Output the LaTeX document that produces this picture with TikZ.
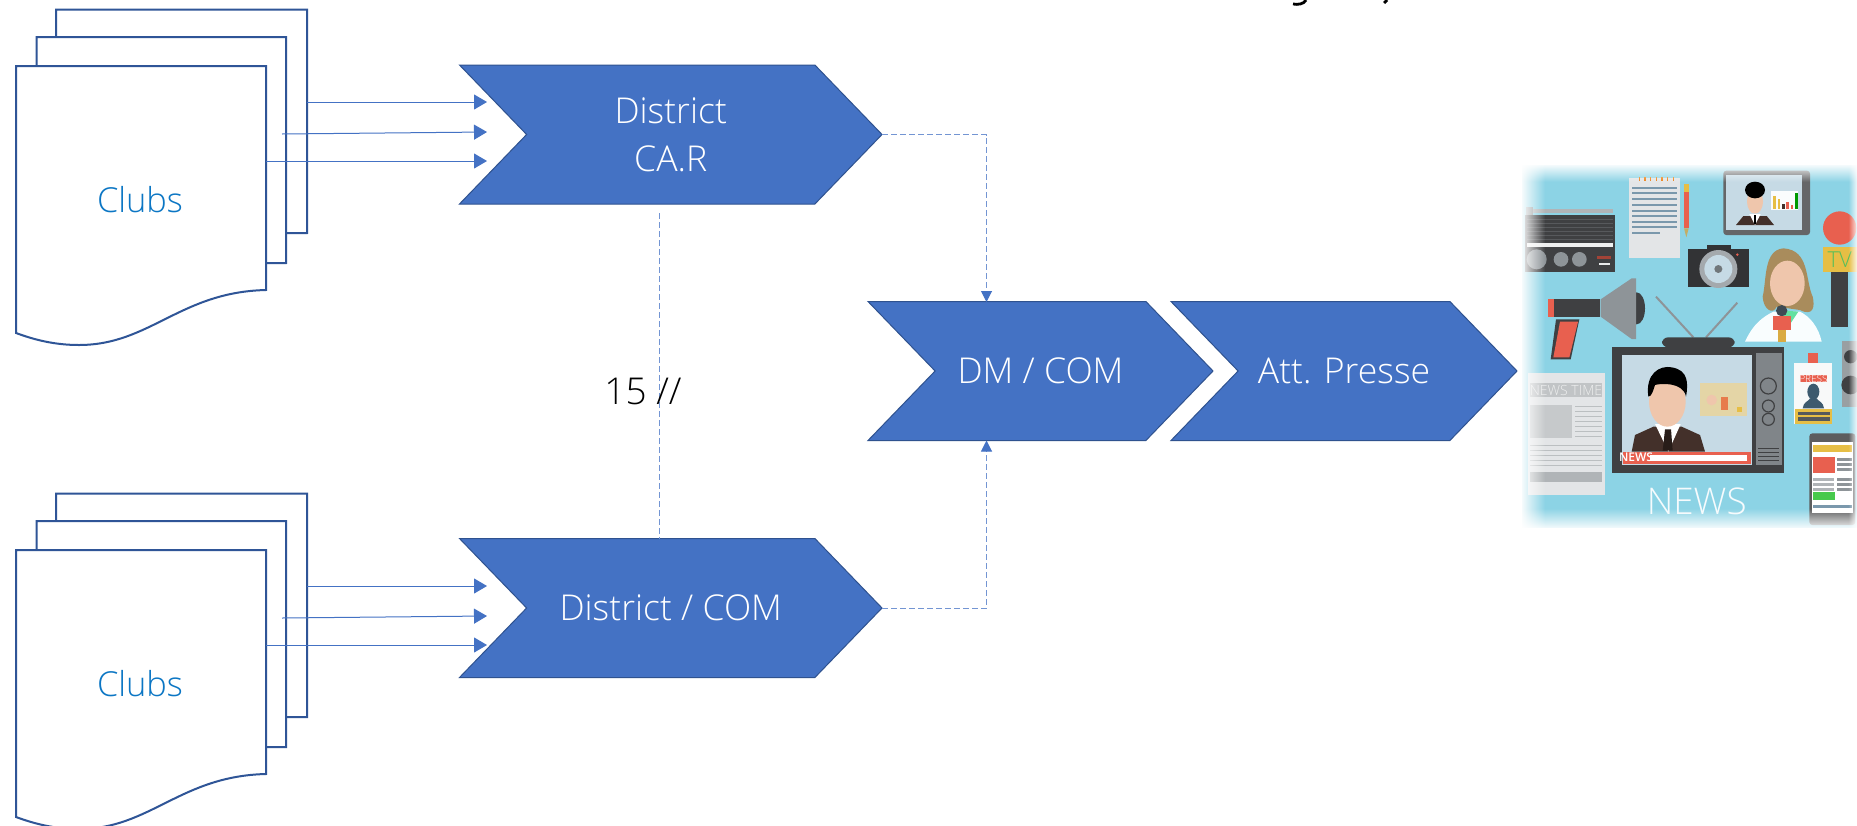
\documentclass[tikz,border=0pt]{standalone}
\usepackage{fontspec}
\setmainfont{Open Sans}[UprightFont=* Light]
\usetikzlibrary{shapes.symbols,arrows.meta,fadings}
\definecolor{chev}{HTML}{4472C4}
\definecolor{chevline}{HTML}{2F528F}
\definecolor{docline}{HTML}{2F5597}
\definecolor{clubtxt}{HTML}{0B76C4}
\definecolor{sky}{HTML}{8CD3E5}
\definecolor{dk}{HTML}{3F4042}
\definecolor{rd}{HTML}{E8604F}
\definecolor{yl}{HTML}{E6BE45}
\definecolor{gr}{HTML}{8E9498}
\definecolor{lg}{HTML}{E3E5E7}
\definecolor{scr}{HTML}{C6DAE5}
\definecolor{skin}{HTML}{EFC6AC}
\definecolor{suit}{HTML}{43302A}
\definecolor{txtline}{HTML}{7A98AC}
\definecolor{hair}{HTML}{A98C5C}
\definecolor{slate}{HTML}{3D5A6E}
\tikzset{
  chevron/.style={shape=signal,signal from=west,signal to=east,signal pointer angle=92,
    fill=chev,draw=chevline,line width=0.5pt,text=white,inner sep=0pt,outer sep=0pt,
    minimum height=69.5pt,font=\fontsize{17.8}{24}\selectfont,align=center},
  docshape/.style={draw=docline,fill=white,line width=1pt,line join=miter},
  clubs/.style={text=clubtxt,font=\fontsize{17.2}{20}\selectfont},
  flow/.style={draw=chev,line width=0.5pt,-{Triangle[length=6.5pt,width=7.5pt,color=chev]}},
  dashflow/.style={draw=chev!75,line width=0.5pt,dash pattern=on 3pt off 1.5pt,-{Triangle[length=5.5pt,width=5.5pt,color=chev]}},
  dashplain/.style={draw=chev!75,line width=0.5pt,dash pattern=on 3pt off 1.5pt},
}
\begin{document}
\begin{tikzpicture}[x=0.5pt,y=-0.5pt]
\useasboundingbox (0,0) rectangle (1857,825);
\fill[white] (0,0) rectangle (1857,825);
% fragments of text cut by the top edge
\draw[black,line width=1.4pt] (1306,0) .. controls (1304,4) and (1298,5) .. (1293,4);
\draw[black,line width=1.4pt] (1387,0) -- (1384,3);
% documents
\foreach \off/\nm in {0/A,484/B}{
\begin{scope}[yshift=-\off*0.5pt]
 \draw[docshape] (56,9.5) -- (307,9.5) -- (307,233) -- (56,235) -- cycle;
 \draw[docshape] (36.7,37) -- (286,37) -- (286,263) -- (36.7,265) -- cycle;
 \draw[docshape] (16,66) -- (266,66) -- (266,290) .. controls (180,292) and (150,345) .. (79,345) .. controls (55,345) and (35,340) .. (16,333) -- cycle;
 \node[clubs] (clubs\nm) at (140,200) {Clubs};
 \coordinate (s\nm1) at (307,102);
 \coordinate (s\nm2) at (282,134);
 \coordinate (s\nm3) at (266,161);
 \coordinate (e\nm1) at (487,102);
 \coordinate (e\nm2) at (487,132);
 \coordinate (e\nm3) at (487,161);
\end{scope}
}
% chevrons
\node[chevron,minimum width=211.25pt] (car) at (670.75,134.5) {District\\CA.R};
\node[chevron,minimum width=211.25pt] (dcom) at (670.75,608) {\raisebox{-0.6pt}{District / COM}};
\node[chevron,minimum width=172.5pt] (dm) at (1040.5,371) {\raisebox{-0.6pt}{DM / COM}};
\node[chevron,minimum width=173pt] (att) at (1344,371) {\raisebox{-0.6pt}{Att. Presse}};
\coordinate (dmtop) at (986.5,302);
\coordinate (dmbot) at (986.5,440.5);
\coordinate (vtop) at (659.6,213);
\coordinate (vbot) at (659.6,539);
% connectors
\foreach \nm in {A,B}{
 \foreach \i in {1,2,3}{ \draw[flow] (s\nm\i) -- (e\nm\i); }
}
\draw[dashflow] (car.east) -| (dmtop);
\draw[dashflow] (dcom.east) -| (dmbot);
\draw[dashplain] (vtop) -- (vbot);
\node[text=black,font=\fontsize{18.5}{20}\selectfont] (lab) at (643,391) {15 //};
% news picture
\begin{scope}[shift={(1480,140)},x=0.16667pt,y=-0.16667pt]
 \fill[sky] (125,75) rectangle (1131,1165);
 % radio
 \fill[gr!70] (148,208) rectangle (400,218);
 \fill[gr] (138,200) rectangle (158,230);
 \fill[dk] (135,226) rectangle (406,395);
 \foreach \y in {238,250,262,274,286,298}{\draw[dk!70!gr,line width=0.4pt] (140,\y) -- (400,\y);}
 \fill[white!85!gr] (140,309) rectangle (398,322);
 \fill[gr] (170,358) circle[radius=30];
 \fill[gr] (243,358) circle[radius=22];
 \fill[gr] (298,358) circle[radius=22];
 \fill[rd!70!black] (352,348) rectangle (392,358);
 \fill[white!80!gr] (358,368) rectangle (390,376);
 % notepad
 \fill[lg] (448,113) rectangle (600,355);
 \foreach \y in {143,160,177,195,212,228,245,262}{\fill[txtline] (455,\y-3) rectangle (592,\y+3);}
 \fill[txtline] (455,275) rectangle (540,281);
 \foreach \x in {478,495,512,529,546,563,580}{\fill[orange!70!brown] (\x-2,110) rectangle (\x+2,122);}
 \fill[yl] (612,133) rectangle (626,155);
 \fill[rd] (612,155) rectangle (626,265);
 \fill[yl!60!gr] (612,265) -- (626,265) -- (619,292) -- cycle;
 % tablet
 \fill[dk!80,rounded corners=1.5pt] (730,92) rectangle (990,285);
 \fill[scr] (738,104) rectangle (965,270);
 \fill[suit] (768,255) -- (790,228) -- (860,228) -- (882,255) -- cycle;
 \fill[white] (808,222) -- (842,222) -- (825,255) -- cycle;
 \fill[black] (821,225) rectangle (829,253);
 \fill[skin] (825,185) ellipse[x radius=24,y radius=36];
 \fill[black] (825,150) ellipse[x radius=30,y radius=25];
 \fill[white!92!scr] (873,152) rectangle (955,210);
 \foreach \x/\h/\c in {880/40/yl,893/30/yl,906/15/suit,919/22/rd,932/12/rd,945/50/green!60!black}{\fill[\c] (\x,208-\h) rectangle (\x+8,208);}
 % camera
 \fill[dk!80!black] (680,314) rectangle (752,335);
 \fill[dk!80!black] (625,328) rectangle (806,441);
 \fill[gr!80] (715,387) circle[radius=57];
 \fill[scr] (715,387) circle[radius=42];
 \fill[gr!80!black] (715,387) circle[radius=12];
 \fill[rd] (772,344) circle[radius=4];
 % woman
 \fill[white!95!sky] (795,605) .. controls (820,550) and (850,530) .. (880,515) -- (960,515) .. controls (990,530) and (1015,560) .. (1025,605) -- cycle;
 \fill[hair] (910,325) .. controls (850,330) and (860,420) .. (848,470) .. controls (850,510) and (880,525) .. (890,500) -- (960,510) .. controls (1000,530) and (1005,500) .. (998,470) .. controls (975,420) and (990,330) .. (910,325) -- cycle;
 \fill[skin] (922,430) ellipse[x radius=52,y radius=68];
 \fill[sky!70!green] (890,510) -- (955,515) -- (925,560) -- cycle;
 \fill[dk!60!slate] (905,512) circle[radius=17];
 \fill[rd] (878,527) rectangle (934,570);
 \fill[yl!70!brown] (893,570) rectangle (918,605);
 % TV microphone
 \fill[dk] (1053,395) rectangle (1105,560);
 \fill[rd] (1079,264) circle[radius=50];
 \fill[yl] (1030,322) rectangle (1130,395);
 \node[text=green!40!gr,font=\fontsize{11}{11}\selectfont] (tvtxt) at (1079,360) {TV};
 % megaphone
 \fill[dk] (205,476) rectangle (360,530);
 \fill[rd] (205,476) rectangle (222,530);
 \fill[dk] (228,538) -- (298,538) -- (272,658) -- (212,658) -- cycle;
 \fill[rd] (240,545) -- (294,545) -- (268,652) -- (220,652) -- cycle;
 \fill[dk] (470,505) ellipse[x radius=25,y radius=48];
 \fill[gr] (362,478) -- (455,415) -- (468,415) -- (468,597) -- (455,597) -- (362,530) -- cycle;
 % television
 \draw[gr,line width=1pt] (528,470) -- (640,592);
 \draw[gr,line width=1pt] (772,488) -- (678,592);
 \fill[dk,rounded corners=3pt] (546,592) rectangle (764,622);
 \fill[dk] (397,622) rectangle (913,998);
 \fill[scr] (425,645) rectangle (815,975);
 \fill[gr!90!black] (828,640) rectangle (905,975);
 \foreach \y/\r in {738/24,798/18,838/18}{\draw[dk,line width=0.6pt] (865,\y) circle[radius=\r];}
 \foreach \y in {925,937,949,961}{\draw[dk,line width=0.5pt] (835,\y) -- (898,\y);}
 \fill[lg!60!yl] (660,730) rectangle (800,828);
 \fill[skin] (695,780) circle[radius=16];
 \fill[yl] (770,800) rectangle (785,815);
 \fill[rd!70!yl] (722,770) rectangle (745,810);
 \fill[suit] (455,935) -- (465,885) -- (520,860) -- (605,860) -- (660,885) -- (675,935) -- cycle;
 \fill[white] (525,852) -- (602,852) -- (565,935) -- cycle;
 \fill[suit!60!black] (555,868) -- (573,868) -- (578,932) -- (548,932) -- cycle;
 \fill[skin] (562,785) ellipse[x radius=55,y radius=75];
 \fill[black] (505,770) .. controls (495,700) and (540,675) .. (575,682) .. controls (625,690) and (625,730) .. (618,770) .. controls (610,725) and (540,730) .. (525,735) .. controls (520,750) and (515,770) .. (505,770) -- cycle;
 \fill[rd] (428,935) rectangle (812,972);
 \fill[white] (510,945) rectangle (802,962);
 \node[text=white,font=\fontsize{6}{6}\selectfont\bfseries] (newsband) at (468,953) {NEWS};
 % newspaper
 \fill[lg] (145,700) rectangle (375,1066);
 \fill[gr!55] (150,728) rectangle (365,770);
 \node[text=white!85!gr,font=\fontsize{7}{7}\selectfont] (nwstime) at (258,750) {NEWS TIME};
 \fill[gr!50] (150,795) rectangle (275,895);
 \foreach \y in {800,815,830,845,860,875,890}{\draw[gr!60,line width=0.5pt] (285,\y) -- (365,\y);}
 \foreach \y in {915,930,945,960,975}{\draw[gr!60,line width=0.5pt] (150,\y) -- (365,\y);}
 \fill[gr!70] (150,995) rectangle (365,1025);
 % press badge
 \fill[rd] (985,640) rectangle (1015,672);
 \fill[white!94!gr] (942,670) rectangle (1057,852);
 \fill[rd] (960,705) rectangle (1040,727);
 \node[text=white,font=\fontsize{5}{5}\selectfont] (presstxt) at (1000,716) {PRESS};
 \fill[yl] (945,808) rectangle (1055,852);
 \fill[gr!60!black] (955,815) rectangle (1050,825);
 \fill[gr!60!black] (955,832) rectangle (1050,842);
 \fill[slate] (968,805) .. controls (970,785) and (985,785) .. (990,775) -- (1010,775) .. controls (1015,785) and (1030,785) .. (1032,805) -- cycle;
 \fill[slate] (1000,755) ellipse[x radius=18,y radius=24];
 % speaker
 \fill[gr!90] (1085,603) rectangle (1131,800);
 \fill[dk] (1112,650) circle[radius=20];
 \fill[dk] (1112,735) circle[radius=28];
 % phone
 \fill[dk!85,rounded corners=1.5pt] (988,880) rectangle (1126,1155);
 \fill[white] (997,905) rectangle (1118,1120);
 \fill[yl] (1000,915) rectangle (1115,936);
 \fill[rd] (1000,950) rectangle (1065,1000);
 \foreach \y in {955,970,985,1015,1030,1045}{\fill[gr] (1072,\y) rectangle (1115,\y+7);}
 \foreach \y in {1015,1030,1045}{\fill[gr!70] (1000,\y) rectangle (1062,\y+7);}
 \fill[green!50!gr] (1000,1056) rectangle (1065,1080);
 \fill[txtline] (1000,1095) rectangle (1115,1105);
 \node[text=white!92!sky,font=\fontsize{18.4}{18.4}\selectfont] (newstxt) at (650,1083) {NEWS};
 % soft edges
 \fill[white,path fading=east] (120,70) rectangle (195,1170);
 \fill[white,path fading=south] (120,70) rectangle (1135,125);
 \fill[white,path fading=north] (120,1105) rectangle (1135,1170);
 \fill[white,path fading=west] (1105,70) rectangle (1135,1170);
\end{scope}
\end{tikzpicture}
\end{document}
